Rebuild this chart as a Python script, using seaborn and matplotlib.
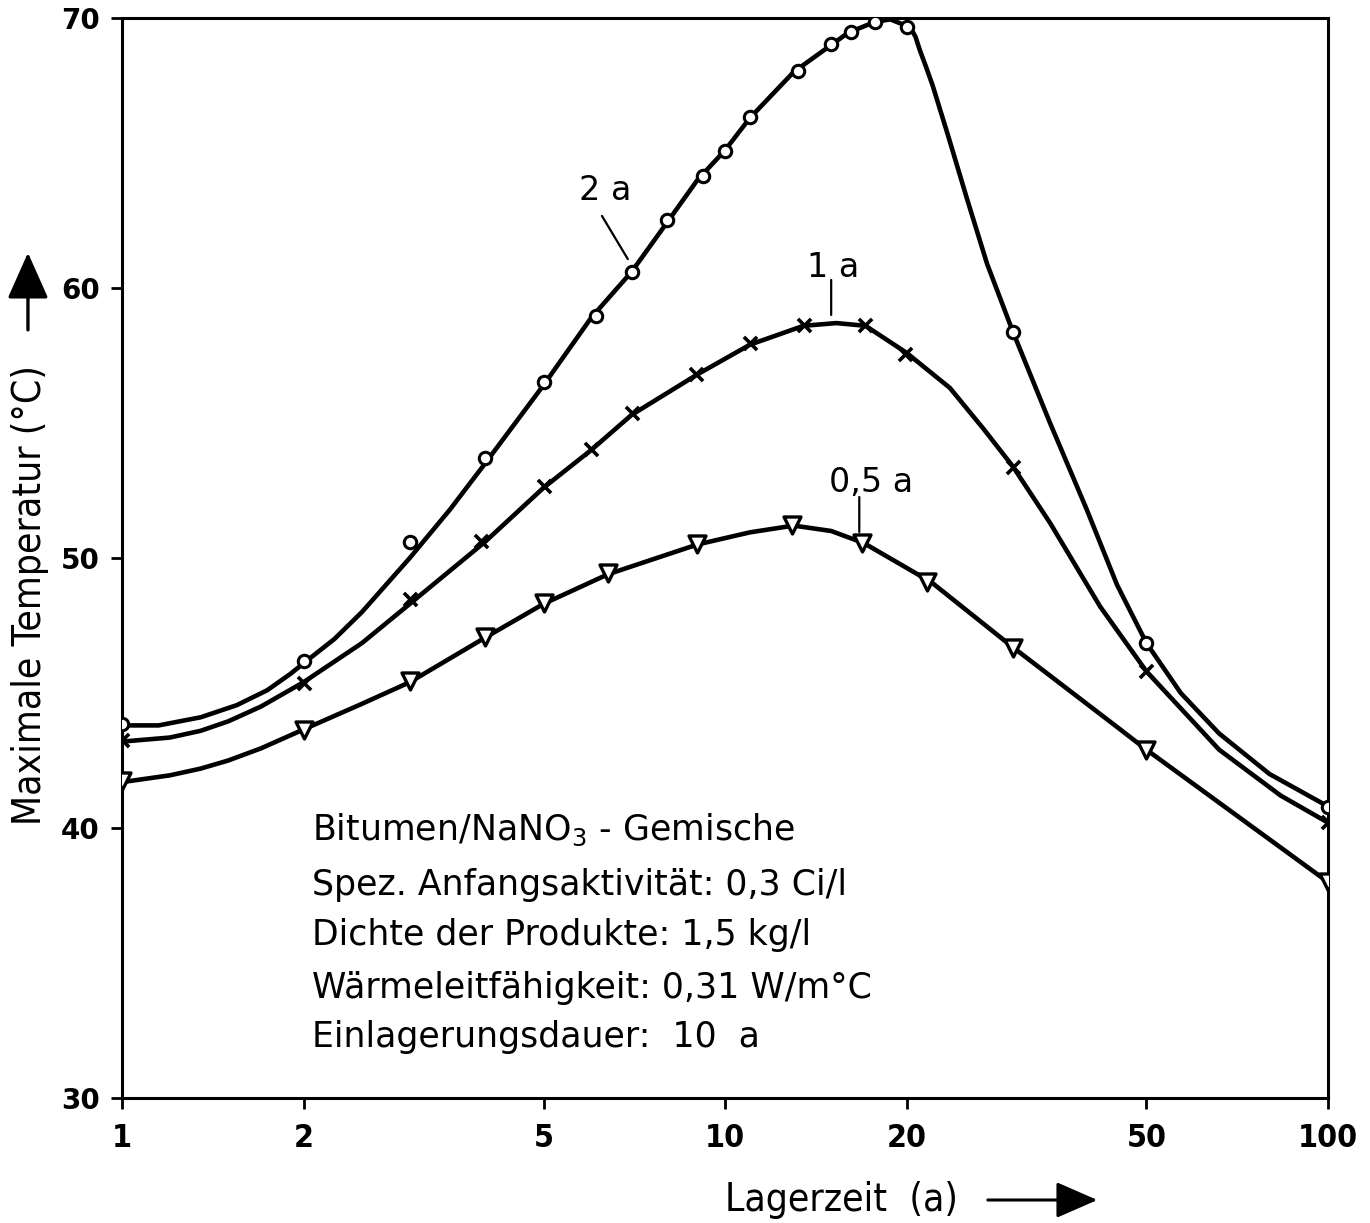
import matplotlib
matplotlib.use("Agg")
import matplotlib.pyplot as plt
import seaborn as sns
import pandas as pd

# ---------------- data ----------------
# measured points (markers)
t_2a = [1, 2, 3, 4, 5, 6.1, 7, 8, 9.2, 10, 11, 13.2, 15, 16.2, 17.7, 20, 30, 50, 100]
T_2a = [43.85, 46.2, 50.6, 53.7, 56.5, 58.96, 60.6, 62.5, 64.15, 65.07, 66.33, 68.04,
        69.04, 69.48, 69.85, 69.65, 58.37, 46.85, 40.78]

t_1a = [1, 2, 3, 3.94, 5, 6, 7, 8.95, 11, 13.5, 17.1, 19.9, 30, 50, 100]
T_1a = [43.26, 45.37, 48.48, 50.63, 52.67, 54.04, 55.37, 56.81, 57.96, 58.63, 58.63,
        57.56, 53.37, 45.81, 40.22]

t_05a = [1, 2, 3, 4, 5, 6.4, 9, 12.9, 16.9, 21.6, 30, 50, 100]
T_05a = [41.74, 43.63, 45.44, 47.07, 48.33, 49.44, 50.52, 51.22, 50.56, 49.11, 46.67,
         42.89, 38.0]

# drawn curves
ct_2a = [1.0, 1.15, 1.35, 1.55, 1.74, 1.9, 2.0, 2.25, 2.5, 3.0, 3.5, 4.0, 5.0, 6.0, 7.0,
         8.0, 9.0, 10, 11, 13, 15, 16, 17.7, 18.8, 20.3, 20.7, 21.05, 21.5, 22.1, 23.4,
         25.2, 27.2, 30, 34.6, 39.8, 44.7, 50, 57, 66, 80, 100]
cT_2a = [43.8, 43.8, 44.1, 44.55, 45.1, 45.7, 46.1, 47.0, 48.0, 50.0, 51.8, 53.5, 56.4,
         58.9, 60.6, 62.4, 64.0, 65.1, 66.3, 68.0, 69.0, 69.45, 69.85, 69.95, 69.65, 69.3,
         68.8, 68.25, 67.5, 65.7, 63.3, 60.9, 58.4, 55.0, 51.8, 49.0, 46.85, 45.0, 43.5,
         42.0, 40.8]

ct_1a = [1, 1.2, 1.35, 1.5, 1.7, 2.0, 2.5, 3.0, 4.0, 5.0, 6.0, 7.0, 9.0, 11, 13.5, 15.3,
         17.1, 20, 23.6, 26.8, 30, 34.6, 41.9, 50, 66, 83.5, 100]
cT_1a = [43.2, 43.35, 43.6, 43.95, 44.5, 45.4, 46.85, 48.3, 50.6, 52.6, 54.0, 55.3, 56.8,
         57.9, 58.6, 58.7, 58.6, 57.6, 56.3, 54.8, 53.4, 51.3, 48.2, 45.8, 42.9, 41.2,
         40.2]

ct_05a = [1, 1.2, 1.35, 1.5, 1.7, 2.0, 2.5, 3.0, 4.0, 5.0, 6.4, 9.0, 11, 13, 15, 17, 22, 30,
          44.7, 50, 100]
cT_05a = [41.7, 41.95, 42.2, 42.5, 42.95, 43.65, 44.6, 45.4, 47.05, 48.3, 49.4, 50.5,
          50.95, 51.2, 51.0, 50.55, 49.1, 46.7, 43.74, 42.9, 38.0]

x_ticks = [1, 2, 5, 10, 20, 50, 100]
x_ticklabels = ["1", "2", "5", "10", "20", "50", "100"]
y_ticks = [30, 40, 50, 60, 70]

info_lines = [
    r"Bitumen/NaNO$_3$ - Gemische",
    "Spez. Anfangsaktivität: 0,3 Ci/l",
    "Dichte der Produkte: 1,5 kg/l",
    "Wärmeleitfähigkeit: 0,31 W/m°C",
    "Einlagerungsdauer:  10  a",
]

# ---------------- plotting ----------------
sns.set_style("ticks")
plt.rcParams["font.family"] = ["DejaVu Sans"]
plt.rcParams["mathtext.fontset"] = "dejavusans"
for key in ["text.color", "axes.labelcolor", "xtick.color", "ytick.color",
            "axes.edgecolor"]:
    plt.rcParams[key] = "black"

fig = plt.figure(figsize=(13.7, 12.23), dpi=100)
ax = fig.add_axes([0.0891, 0.1022, 0.8802, 0.8831])

curves = [(ct_2a, cT_2a), (ct_1a, cT_1a), (ct_05a, cT_05a)]
for ct, cT in curves:
    df = pd.DataFrame({"t": ct, "T": cT})
    sns.lineplot(data=df, x="t", y="T", ax=ax, color="black", lw=3.3, sort=False,
                 estimator=None, zorder=2)

df2 = pd.DataFrame({"t": t_2a, "T": T_2a})
sns.scatterplot(data=df2, x="t", y="T", ax=ax, marker="o", s=80, facecolor="white",
                edgecolor="black", linewidth=2.2, zorder=3)
df1 = pd.DataFrame({"t": t_1a, "T": T_1a})
sns.scatterplot(data=df1, x="t", y="T", ax=ax, marker="x", s=90, color="black",
                linewidth=2.6, zorder=3)
df05 = pd.DataFrame({"t": t_05a, "T": T_05a})
sns.scatterplot(data=df05, x="t", y="T", ax=ax, marker="v", s=150, facecolor="white",
                edgecolor="black", linewidth=2.4, zorder=3)

ax.set_xscale("log")
ax.set_xlim(1, 100)
ax.set_ylim(30, 70)
ax.set_xticks(x_ticks)
ax.set_xticklabels(x_ticklabels)
ax.xaxis.set_minor_locator(matplotlib.ticker.NullLocator())
ax.set_yticks(y_ticks)
ax.set_xlabel("")
ax.set_ylabel("")

for sp in ax.spines.values():
    sp.set_visible(True)
    sp.set_linewidth(2.2)
    sp.set_color("black")
ax.tick_params(axis="both", direction="out", length=8, width=2, color="black",
               labelcolor="black")
ax.tick_params(axis="y", pad=8)
ax.tick_params(axis="x", pad=10)
for lab in ax.get_yticklabels():
    lab.set_fontsize(20)
    lab.set_fontweight("bold")
    lab.set_family(["DejaVu Sans"])
for lab in ax.get_xticklabels():
    lab.set_fontsize(23)
    lab.set_fontweight("semibold")
    lab.set_fontstretch("condensed")
    lab.set_family(["DejaVu Sans"])

# curve labels with leader lines
lead = dict(arrowstyle="-", color="black", lw=1.6, shrinkA=0, shrinkB=0)
ax.text(6.32, 63.6, "2 a", fontsize=24, ha="center", va="center")
ax.annotate("", xy=(6.9, 61.07), xytext=(6.25, 62.67), arrowprops=lead)
ax.text(15.1, 60.75, "1 a", fontsize=24, ha="center", va="center")
ax.annotate("", xy=(15.0, 59.0), xytext=(15.0, 60.3), arrowprops=lead)
ax.text(17.5, 52.8, "0,5 a", fontsize=24, ha="center", va="center")
ax.annotate("", xy=(16.7, 50.96), xytext=(16.7, 52.26), arrowprops=lead)

# info block
y_pos = [0.248, 0.197, 0.1509, 0.1019, 0.0565]
for txt, yp in zip(info_lines, y_pos):
    ax.text(0.1575, yp, txt, transform=ax.transAxes, fontsize=25, ha="left",
            va="center")

# axis titles with arrows
fig.text(0.0219, 0.5135, "Maximale Temperatur (°C)", rotation=90, ha="center",
         va="center", fontsize=28, fontstretch="condensed")
fig.patches.append(matplotlib.patches.FancyArrowPatch(
    (0.0204, 0.728), (0.0204, 0.7956), transform=fig.transFigure,
    arrowstyle="-|>,head_length=18,head_width=8", mutation_scale=1.6, lw=2.4,
    color="black"))
fig.text(0.614, 0.0188, "Lagerzeit  (a)", ha="center", va="center", fontsize=28,
         fontstretch="condensed")
fig.patches.append(matplotlib.patches.FancyArrowPatch(
    (0.719, 0.0188), (0.803, 0.0188), transform=fig.transFigure,
    arrowstyle="-|>,head_length=16,head_width=7", mutation_scale=1.6, lw=2.2,
    color="black"))

fig.savefig("out.png", dpi=100)
